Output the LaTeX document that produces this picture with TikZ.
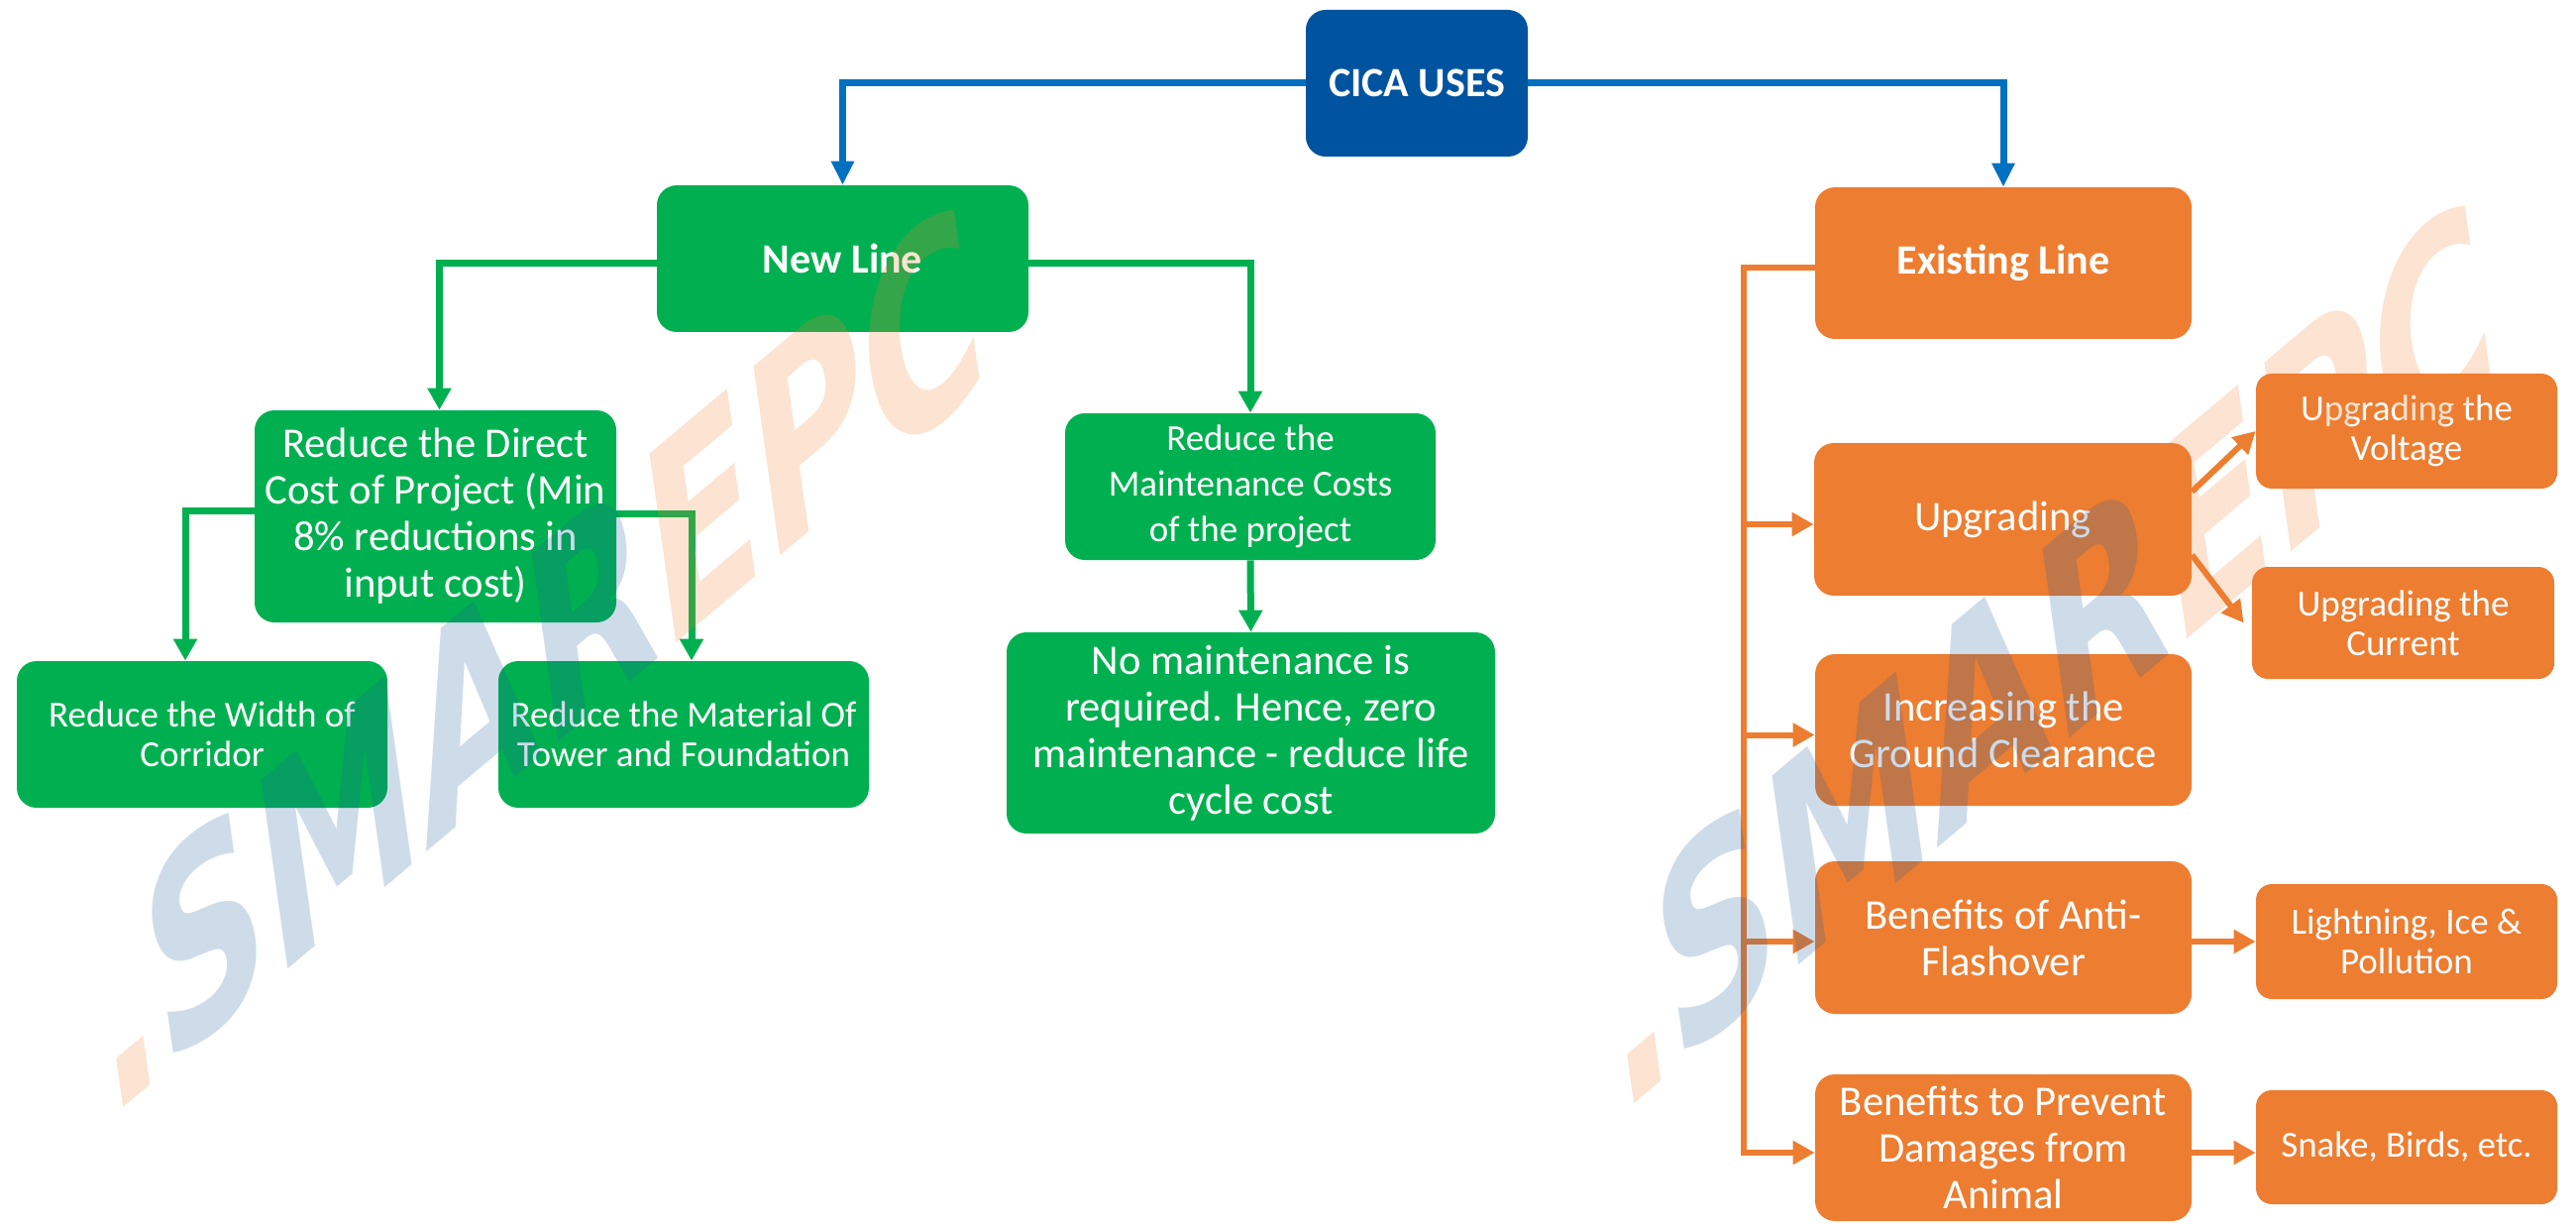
\documentclass[tikz,border=0pt]{standalone}
\usepackage{fontspec}
\setmainfont{Carlito}
\newfontfamily\wmfont{DejaVu Sans}
\usetikzlibrary{arrows.meta}
\definecolor{cgreen}{HTML}{00B050}
\definecolor{corange}{HTML}{ED7D31}
\definecolor{cblue}{HTML}{0070C0}
\definecolor{cdblue}{HTML}{00539F}
\definecolor{wblue}{HTML}{1F5FA0}
\definecolor{worange}{HTML}{F08030}
\tikzset{
  box/.style={rounded corners=10pt, inner sep=0pt, text=white, align=center,
    font=\fontsize{18.5}{23}\selectfont},
  gbox/.style={box, fill=cgreen},
  obox/.style={box, fill=corange},
  hd/.style={font=\fontsize{21}{25}\selectfont\bfseries},
  big/.style={font=\fontsize{21.3}{23.5}\selectfont},
  tight/.style={font=\fontsize{18.5}{20}\selectfont},
  sz/.style 2 args={minimum width=#1pt, minimum height=#2pt},
  bl/.style={draw=cblue, line width=3.5pt, -{Triangle[length=12pt,width=11pt]}},
  gl/.style={draw=cgreen, line width=3.5pt, -{Triangle[length=11pt,width=11.5pt]}},
  ol/.style={draw=corange, line width=3pt, -{Triangle[length=11pt,width=11.5pt]}},
  wm/.style={inner sep=0pt, rotate=40, xslant=0.45, xscale=0.9, text opacity=0.22,
    font=\wmfont\bfseries\itshape\fontsize{112}{112}\selectfont}
}
\begin{document}
\begin{tikzpicture}[x=0.5pt,y=-0.5pt]
\useasboundingbox (0,0) rectangle (2600,1235);
% top
\node[box, fill=cdblue, hd, sz={112}{74}] (cica) at (1430,84) {CICA USES};
\node[gbox, hd, sz={187.5}{74}] (newline) at (850.5,261) {New Line};
\node[obox, hd, sz={190}{76.5}] (existing) at (2022,265.5) {Existing Line};
% new line branch
\node[gbox, big, sz={182.5}{107}] (direct) at (439.5,521) {Reduce the Direct\\Cost of Project (Min\\8\% reductions in\\input cost)};
\node[gbox, sz={187}{74}] (maint) at (1262,491) {Reduce the\\Maintenance Costs\\of the project};
\node[gbox, tight, sz={187}{74}] (width) at (204,741) {Reduce the Width of\\Corridor};
\node[gbox, tight, sz={187}{74}] (material) at (690,741) {Reduce the Material Of\\Tower and Foundation};
\node[gbox, big, sz={246.5}{101.5}] (nomaint) at (1262.5,739.5) {No maintenance is\\required. Hence, zero\\maintenance - reduce life\\cycle cost};
% existing line branch
\node[obox, big, sz={190.5}{77}] (upgrading) at (2021.5,524) {Upgrading};
\node[obox, tight, rounded corners=8pt, sz={152}{58}] (voltage) at (2429,435) {Upgrading the\\Voltage};
\node[obox, tight, rounded corners=8pt, sz={152.5}{56.5}] (current) at (2425.5,628.5) {Upgrading the\\Current};
\node[obox, big, sz={190}{76.5}] (ground) at (2022,736.5) {Increasing the\\Ground Clearance};
\node[obox, big, sz={190}{77}] (anti) at (2022,946) {Benefits of Anti-\\Flashover};
\node[obox, tight, rounded corners=8pt, sz={152}{58}] (lightning) at (2429,950) {Lightning, Ice \&\\Pollution};
\node[obox, big, sz={190}{74}] (animal) at (2022,1158) {Benefits to Prevent\\Damages from\\Animal};
\node[obox, tight, rounded corners=8pt, sz={152}{57.5}] (snake) at (2429,1157.5) {Snake, Birds, etc.};
% connectors
\draw[bl] (cica.west) -| (newline.north);
\draw[bl] (cica.east) -| (existing.north);
\draw[gl] ([yshift=-2.5pt]newline.west) -| ([xshift=2pt]direct.north);
\draw[gl] ([yshift=-2.5pt]newline.east) -| (maint.north);
\draw[gl] ([yshift=3pt]direct.west) -| ([xshift=-8.5pt]width.north);
\draw[gl] ([yshift=1.5pt]direct.east) -| ([xshift=4pt]material.north);
\draw[gl] (maint.south) -- (nomaint.north);
\path ([yshift=-2.5pt]existing.west) ++(-72,0) coordinate (t0);
\draw[ol] ([yshift=-2.5pt]existing.west) -- (t0) |- ([yshift=-2.5pt]animal.west);
\draw[ol] (t0 |- upgrading.west) ++(0,5) -- ([yshift=-2.5pt]upgrading.west);
\draw[ol] (t0 |- ground.west) ++(0,5) -- ([yshift=-2.5pt]ground.west);
\draw[ol] (t0 |- anti.west) ++(0,4) -- ([yshift=-2pt]anti.west);
\draw[ol] ([yshift=14pt]upgrading.east) -- (voltage.west);
\draw[ol] ([yshift=-18pt]upgrading.east) -- ([xshift=-4pt]current.west);
\draw[ol] (anti.east |- lightning.west) -- (lightning.west);
\draw[ol] ([yshift=-2.5pt]animal.east) -- ([yshift=-2.5pt]animal.east -| snake.west);
% watermarks
\node[wm] (wm1) at (540,662) {\textcolor{worange}{.}\textcolor{wblue}{SMAR}\textcolor{worange}{EPC}};
\node[wm] (wm2) at (2065,658) {\textcolor{worange}{.}\textcolor{wblue}{SMAR}\textcolor{worange}{EPC}};
\end{tikzpicture}
\end{document}
